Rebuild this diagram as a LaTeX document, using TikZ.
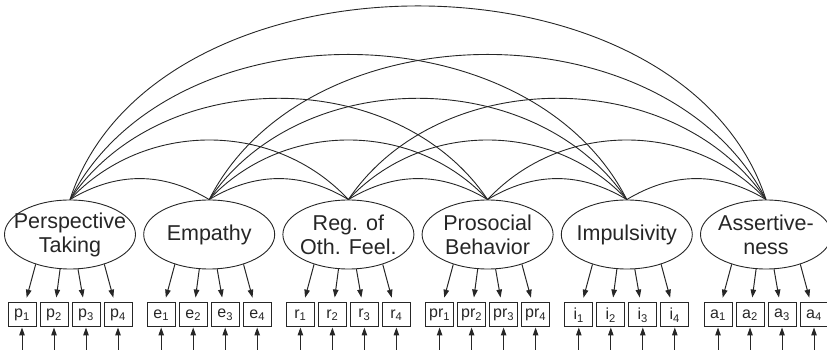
\documentclass[tikz,border=0pt]{standalone}
\usepackage{fontspec}
\setmainfont{Liberation Sans}
\usetikzlibrary{shapes.geometric,arrows.meta}

\tikzset{
    factor/.style={ellipse, draw, line width=0.9pt, minimum width=131pt, minimum height=69pt, inner sep=0pt},
    ftext/.style={align=center, inner sep=0pt, font=\fontsize{21.5}{24}\selectfont},
    item/.style={rectangle, draw, line width=1pt, minimum width=28pt, minimum height=24pt, inner sep=0pt, font=\fontsize{16}{18}\selectfont},
    load/.style={-{Triangle[length=8pt,width=5.5pt]}, line width=1pt, shorten >=5pt},
    err/.style={{Triangle[length=8pt,width=5.5pt]}-, line width=1pt},
    cov/.style={line width=0.9pt}
}

\begin{document}
\begin{tikzpicture}[x=1pt,y=1pt,black!85]
            \useasboundingbox (0,0) rectangle (827,350);

            \node[factor, label={[ftext]center:Perspective\\Taking}] (PT) at (70,115.5) {};
            \node[factor, label={[ftext]center:Empathy}] (EM) at (209.2,115.5) {};
            \node[factor, label={[ftext]center:Reg. of\\Oth. Feel.}] (RO) at (348.4,115.5) {};
            \node[factor, label={[ftext]center:Prosocial\\Behavior}] (PB) at (487.6,115.5) {};
            \node[factor, label={[ftext]center:Impulsivity}] (IM) at (626.8,115.5) {};
            \node[factor, label={[ftext]center:Assertive-\\ness}] (AS) at (766,115.5) {};

            \node[item] (p1) at (22,35) {p\textsubscript{1}};
            \node[item] (p2) at (54,35) {p\textsubscript{2}};
            \node[item] (p3) at (86,35) {p\textsubscript{3}};
            \node[item] (p4) at (118,35) {p\textsubscript{4}};
            \node[item] (e1) at (161.2,35) {e\textsubscript{1}};
            \node[item] (e2) at (193.2,35) {e\textsubscript{2}};
            \node[item] (e3) at (225.2,35) {e\textsubscript{3}};
            \node[item] (e4) at (257.2,35) {e\textsubscript{4}};
            \node[item] (r1) at (300.4,35) {r\textsubscript{1}};
            \node[item] (r2) at (332.4,35) {r\textsubscript{2}};
            \node[item] (r3) at (364.4,35) {r\textsubscript{3}};
            \node[item] (r4) at (396.4,35) {r\textsubscript{4}};
            \node[item] (pr1) at (439.6,35) {pr\textsubscript{1}};
            \node[item] (pr2) at (471.6,35) {pr\textsubscript{2}};
            \node[item] (pr3) at (503.6,35) {pr\textsubscript{3}};
            \node[item] (pr4) at (535.6,35) {pr\textsubscript{4}};
            \node[item] (i1) at (578.8,35) {i\textsubscript{1}};
            \node[item] (i2) at (610.8,35) {i\textsubscript{2}};
            \node[item] (i3) at (642.8,35) {i\textsubscript{3}};
            \node[item] (i4) at (674.8,35) {i\textsubscript{4}};
            \node[item] (a1) at (718,35) {a\textsubscript{1}};
            \node[item] (a2) at (750,35) {a\textsubscript{2}};
            \node[item] (a3) at (782,35) {a\textsubscript{3}};
            \node[item] (a4) at (814,35) {a\textsubscript{4}};

            % loadings
            \draw[load] (PT.-139) to (p1); \draw[load] (PT.-106) to (p2); \draw[load] (PT.-77) to (p3); \draw[load] (PT.-41) to (p4);
            \draw[load] (EM.-139) to (e1); \draw[load] (EM.-106) to (e2); \draw[load] (EM.-77) to (e3); \draw[load] (EM.-41) to (e4);
            \draw[load] (RO.-139) to (r1); \draw[load] (RO.-106) to (r2); \draw[load] (RO.-77) to (r3); \draw[load] (RO.-41) to (r4);
            \draw[load] (PB.-139) to (pr1); \draw[load] (PB.-106) to (pr2); \draw[load] (PB.-77) to (pr3); \draw[load] (PB.-41) to (pr4);
            \draw[load] (IM.-139) to (i1); \draw[load] (IM.-106) to (i2); \draw[load] (IM.-77) to (i3); \draw[load] (IM.-41) to (i4);
            \draw[load] (AS.-139) to (a1); \draw[load] (AS.-106) to (a2); \draw[load] (AS.-77) to (a3); \draw[load] (AS.-41) to (a4);

            % residuals
            \draw[err] (p1) -- ++(0,-40); \draw[err] (p2) -- ++(0,-40); \draw[err] (p3) -- ++(0,-40); \draw[err] (p4) -- ++(0,-40);
            \draw[err] (e1) -- ++(0,-40); \draw[err] (e2) -- ++(0,-40); \draw[err] (e3) -- ++(0,-40); \draw[err] (e4) -- ++(0,-40);
            \draw[err] (r1) -- ++(0,-40); \draw[err] (r2) -- ++(0,-40); \draw[err] (r3) -- ++(0,-40); \draw[err] (r4) -- ++(0,-40);
            \draw[err] (pr1) -- ++(0,-40); \draw[err] (pr2) -- ++(0,-40); \draw[err] (pr3) -- ++(0,-40); \draw[err] (pr4) -- ++(0,-40);
            \draw[err] (i1) -- ++(0,-40); \draw[err] (i2) -- ++(0,-40); \draw[err] (i3) -- ++(0,-40); \draw[err] (i4) -- ++(0,-40);
            \draw[err] (a1) -- ++(0,-40); \draw[err] (a2) -- ++(0,-40); \draw[err] (a3) -- ++(0,-40); \draw[err] (a4) -- ++(0,-40);

            % covariances
            \draw[cov] (PT.north) to[out=31,in=149] (EM.north); \draw[cov] (EM.north) to[out=31,in=149] (RO.north); \draw[cov] (RO.north) to[out=31,in=149] (PB.north); \draw[cov] (PB.north) to[out=31,in=149] (IM.north); \draw[cov] (IM.north) to[out=31,in=149] (AS.north);
            \draw[cov] (PT.north) to[out=47,in=133] (RO.north); \draw[cov] (EM.north) to[out=47,in=133] (PB.north); \draw[cov] (RO.north) to[out=47,in=133] (IM.north); \draw[cov] (PB.north) to[out=47,in=133] (AS.north);
            \draw[cov] (PT.north) to[out=56,in=124] (PB.north); \draw[cov] (EM.north) to[out=56,in=124] (IM.north); \draw[cov] (RO.north) to[out=56,in=124] (AS.north);
            \draw[cov] (PT.north) to[out=63,in=117] (IM.north); \draw[cov] (EM.north) to[out=63,in=117] (AS.north);
            \draw[cov] (PT.north) to[out=72,in=108] (AS.north);
        \end{tikzpicture}
\end{document}
